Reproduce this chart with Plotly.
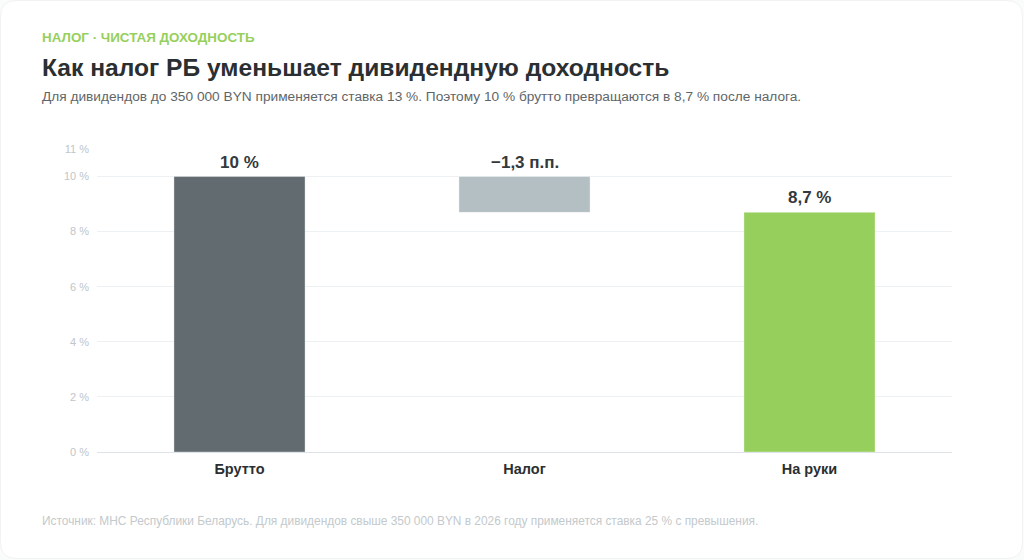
import plotly.graph_objects as go

categories = ["Брутто", "Налог", "На руки"]
bar_tops = [10.0, 10.0, 8.7]
bar_bases = [0.0, 8.7, 0.0]
value_labels = ["10 %", "−1,3 п.п.", "8,7 %"]
bar_colors = ["#626c70", "#b4bfc4", "#97cf5c"]
tick_values = [0, 2, 4, 6, 8, 10, 11]
tick_labels = ["0 %", "2 %", "4 %", "6 %", "8 %", "10 %", "11 %"]

FONT = "Liberation Sans, Arial, sans-serif"
W, H = 1024, 560
L, R, T, B = 97, 72, 149, 108
PW = W - L - R
PH = H - T - B

heights = [t - b for t, b in zip(bar_tops, bar_bases)]

fig = go.Figure()
fig.add_trace(go.Bar(
    x=categories, y=heights, base=bar_bases,
    marker=dict(color=bar_colors, line=dict(color="rgba(255,255,255,0.35)", width=1)),
    width=0.46, hoverinfo="skip",
))

for c, t, lab in zip(categories, bar_tops, value_labels):
    fig.add_annotation(x=c, y=t, text=f"<b>{lab}</b>", showarrow=False,
                       yanchor="bottom", yshift=3,
                       font=dict(family=FONT, size=17, color="#33393c"))

texts = [
    (38, "<b>НАЛОГ · ЧИСТАЯ ДОХОДНОСТЬ</b>", 13.4, "#97cf5c"),
    (67, "<b>Как налог РБ уменьшает дивидендную доходность</b>", 24.6, "#2b2f31"),
    (96, "Для дивидендов до 350 000 BYN применяется ставка 13 %. Поэтому 10 % брутто превращаются в 8,7 % после налога.", 13.7, "#5f6669"),
    (521, "Источник: МНС Республики Беларусь. Для дивидендов свыше 350 000 BYN в 2026 году применяется ставка 25 % с превышения.", 11.9, "#c3c9cc"),
]
for ypx, txt, size, col in texts:
    fig.add_annotation(xref="paper", yref="paper",
                       x=(40 - L) / PW, y=(H - B - ypx) / PH,
                       xanchor="left", yanchor="middle", text=txt, showarrow=False,
                       font=dict(family=FONT, size=size, color=col))

# card with rounded corners (pixel -> paper helpers)
def px(x):
    return (x - L) / PW

def py(y):
    return (H - B - y) / PH

r = 16
x0, y0, x1, y1 = 0.5, 0.5, W - 1.5, H - 1.5
path = (f"M {px(x0 + r)} {py(y0)} L {px(x1 - r)} {py(y0)} "
        f"Q {px(x1)} {py(y0)} {px(x1)} {py(y0 + r)} L {px(x1)} {py(y1 - r)} "
        f"Q {px(x1)} {py(y1)} {px(x1 - r)} {py(y1)} L {px(x0 + r)} {py(y1)} "
        f"Q {px(x0)} {py(y1)} {px(x0)} {py(y1 - r)} L {px(x0)} {py(y0 + r)} "
        f"Q {px(x0)} {py(y0)} {px(x0 + r)} {py(y0)} Z")
fig.add_shape(type="path", xref="paper", yref="paper", path=path,
              fillcolor="white", line=dict(color="#f1f2f4", width=1), layer="below")

fig.update_layout(
    width=W, height=H,
    margin=dict(l=L, r=R, t=T, b=B),
    paper_bgcolor="#fafbfb", plot_bgcolor="white",
    showlegend=False,
    font=dict(family=FONT),
    xaxis=dict(showgrid=False, showline=False, ticks="",
               tickvals=categories, ticktext=[f"<b>{c}</b>" for c in categories],
               tickfont=dict(family=FONT, size=14.5, color="#2b2f31"),
               ticklabelstandoff=6),
    yaxis=dict(range=[0, 11], tickvals=tick_values, ticktext=tick_labels,
               showgrid=True, gridcolor="#eef1f3", gridwidth=1,
               zeroline=True, zerolinecolor="#dde3e6", zerolinewidth=1,
               showline=False, ticks="",
               tickfont=dict(family=FONT, size=11, color="#c0c6ca"),
               ticklabelstandoff=7),
)

fig.write_html("out.html")
